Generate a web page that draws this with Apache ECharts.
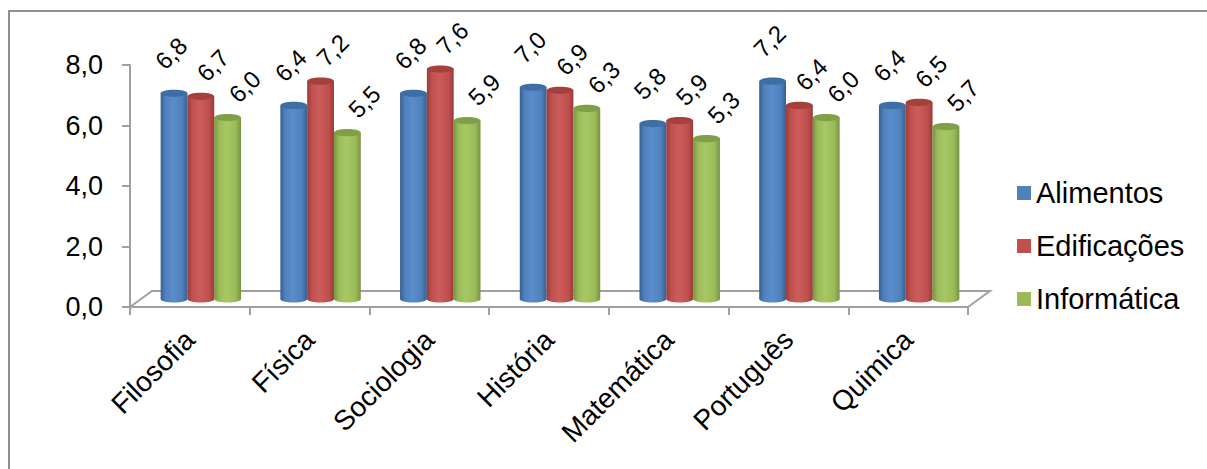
<!DOCTYPE html>
<html>
<head>
<meta charset="utf-8">
<script src="https://cdn.jsdelivr.net/npm/echarts@6/dist/echarts.min.js"></script>
<style>
  html, body { margin: 0; padding: 0; background: #ffffff; }
  #chart { width: 1207px; height: 469px; }
</style>
</head>
<body>
<div id="chart"></div>
<script>
// Average grades per subject for each course
const categories = ['Filosofia', 'Física', 'Sociologia', 'História', 'Matemática', 'Português', 'Quimica'];
const seriesNames = ['Alimentos', 'Edificações', 'Informática'];
const alimentos   = [6.8, 6.4, 6.8, 7.0, 5.8, 7.2, 6.4];
const edificacoes = [6.7, 7.2, 7.6, 6.9, 5.9, 6.4, 6.5];
const informatica = [6.0, 5.5, 5.9, 6.3, 5.3, 6.0, 5.7];
const yMin = 0, yMax = 8, yStep = 2;

const FONT = '"Liberation Sans", Arial, Helvetica, sans-serif';

// Cylinder shading per course
const palettes = [
  { base: '#4F81BD', dark: '#385F91', light: '#5A8DCB', cap: '#3F6DA6' },
  { base: '#C0504D', dark: '#983C3A', light: '#CC5C59', cap: '#A5403D' },
  { base: '#9BBB59', dark: '#779343', light: '#A8C866', cap: '#80A047' }
];
// Where each value label sits relative to the top of its cylinder [dx, rise]
const labelShift = [[-3, 40], [12, 31], [17, 31]];

const fmt = v => v.toFixed(1).replace('.', ',');

// Plot frame (front face of the 3D floor) and the offset of the bar plane behind it
const plot = { left: 130, right: 968, top: 65, bottom: 307 };
const depth = { dx: 22, dy: -16 };
const barShift = { dx: 11, dy: -8 };

function cylinder(idx) {
  const pal = palettes[idx];
  return function (params, api) {
    const cat = api.value(0);
    const val = api.value(1);
    const top = api.coord([cat, val]);
    const base = api.coord([cat, 0]);
    const band = api.size([1, 0])[0];
    const w = band * 0.224;
    const x0 = top[0] - 1.5 * w + idx * w;
    const cx = x0 + w / 2;
    const ry = 3.6;
    const body = {
      type: 'linear', x: 0, y: 0, x2: 1, y2: 0,
      colorStops: [
        { offset: 0, color: pal.dark },
        { offset: 0.18, color: pal.base },
        { offset: 0.45, color: pal.light },
        { offset: 0.8, color: pal.base },
        { offset: 1, color: pal.dark }
      ]
    };
    return {
      type: 'group',
      children: [
        { type: 'ellipse', shape: { cx: cx, cy: base[1], rx: w / 2, ry: ry }, style: { fill: body } },
        { type: 'rect', shape: { x: x0, y: top[1], width: w, height: base[1] - top[1] }, style: { fill: body } },
        { type: 'ellipse', shape: { cx: cx, cy: top[1], rx: w / 2, ry: ry }, style: { fill: pal.cap } },
        {
          type: 'text',
          x: cx + labelShift[idx][0],
          y: top[1] - labelShift[idx][1],
          rotation: Math.PI / 4,
          style: {
            text: fmt(val), fill: '#000000', fontSize: 24, fontFamily: FONT,
            align: 'center', verticalAlign: 'middle'
          }
        }
      ]
    };
  };
}

const values = [alimentos, edificacoes, informatica];
const W = 1207, H = 469;
const chart = echarts.init(document.getElementById('chart'), null, { renderer: 'svg', width: W, height: H });

const axisGray = '#A0A0A0';

chart.setOption({
  animation: false,
  backgroundColor: '#ffffff',
  color: palettes.map(p => p.base),
  textStyle: { fontFamily: FONT },
  grid: [
    { left: plot.left, right: W - plot.right, top: plot.top, bottom: H - plot.bottom, containLabel: false, outerBoundsMode: 'none' },
    { left: plot.left + barShift.dx, right: W - plot.right - barShift.dx, top: plot.top + barShift.dy, bottom: H - plot.bottom - barShift.dy, containLabel: false, outerBoundsMode: 'none' }
  ],
  xAxis: [
    {
      type: 'category', gridIndex: 0, data: categories,
      axisLine: { show: true, lineStyle: { color: axisGray, width: 2 } },
      axisTick: { show: true, length: 8, lineStyle: { color: axisGray, width: 2 } },
      axisLabel: {
        interval: 0, rotate: 45, margin: 28, fontSize: 28, color: '#000000', fontFamily: FONT, hideOverlap: false
      },
      splitLine: { show: false }
    },
    { type: 'category', gridIndex: 1, data: categories, show: false }
  ],
  yAxis: [
    {
      type: 'value', gridIndex: 0, min: yMin, max: yMax, interval: yStep,
      axisLine: { show: true, lineStyle: { color: axisGray, width: 2 } },
      axisTick: { show: true, length: 8, lineStyle: { color: axisGray, width: 2 } },
      axisLabel: { margin: 27, fontSize: 27, color: '#000000', fontFamily: FONT, formatter: v => fmt(v) },
      splitLine: { show: false }
    },
    { type: 'value', gridIndex: 1, min: yMin, max: yMax, interval: yStep, show: false }
  ],
  legend: {
    orient: 'vertical', left: 1012, top: 173,
    itemWidth: 14, itemHeight: 14, itemGap: 23, icon: 'rect',
    textStyle: { fontSize: 29, lineHeight: 30, color: '#000000', fontFamily: FONT },
    data: seriesNames
  },
  graphic: [
    // chart area border
    { type: 'rect', silent: true, z: 0, shape: { x: 9, y: 11, width: 1400, height: 700 },
      style: { fill: 'none', stroke: '#8E8E8E', lineWidth: 2 } },
    // floor of the 3D plot
    { type: 'polyline', silent: true, z: 0,
      shape: { points: [
        [plot.left, plot.bottom],
        [plot.left + depth.dx, plot.bottom + depth.dy],
        [plot.right + depth.dx, plot.bottom + depth.dy],
        [plot.right, plot.bottom]
      ] },
      style: { fill: 'none', stroke: axisGray, lineWidth: 2 } }
  ],
  series: values.map((arr, i) => ({
    type: 'custom',
    name: seriesNames[i],
    xAxisIndex: 1, yAxisIndex: 1,
    itemStyle: { color: palettes[i].base },
    encode: { x: 0, y: 1 },
    data: arr.map((v, k) => [k, v]),
    renderItem: cylinder(i),
    z: 3
  }))
});
</script>
</body>
</html>
